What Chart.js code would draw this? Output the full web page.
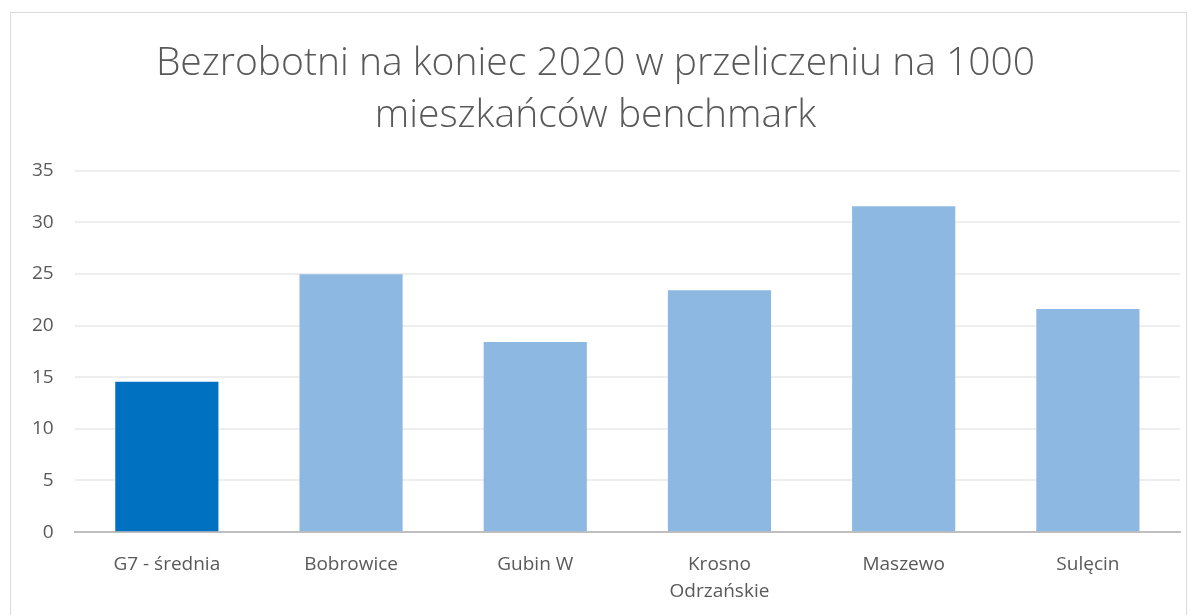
<!DOCTYPE html>
<html><head><meta charset="utf-8">
<script src="https://cdn.jsdelivr.net/npm/chart.js@4/dist/chart.umd.min.js"></script>
<style>
html,body{margin:0;padding:0;background:#fff;overflow:hidden;}
#wrap{position:absolute;left:10px;top:12px;width:1177px;height:614px;border:1px solid #d9d9d9;box-sizing:border-box;}
canvas{display:block;}
</style></head><body>
<div id="wrap"><canvas id="c"></canvas></div>
<script>
const categories = ["G7 - średnia", "Bobrowice", "Gubin W", ["Krosno", "Odrzańskie"], "Maszewo", "Sulęcin"];
const values = [14.55, 24.95, 18.4, 23.4, 31.55, 21.6];
const barColors = ["#0070C0", "#8DB8E1", "#8DB8E1", "#8DB8E1", "#8DB8E1", "#8DB8E1"];
const titleLines = ["Bezrobotni na koniec 2020 w przeliczeniu na 1000", "mieszkańców benchmark"];

new Chart(document.getElementById('c'), {
  type: 'bar',
  data: { labels: categories, datasets: [{ data: values, backgroundColor: barColors, barPercentage: 0.56, categoryPercentage: 1 }] },
  options: {
    responsive: true, maintainAspectRatio: false, animation: false,
    layout: { padding: { left: 0, right: 6, top: 25, bottom: 1 } },
    plugins: {
      legend: { display: false }, tooltip: { enabled: false },
      title: { display: true, text: titleLines, color: '#595959',
        font: { family: 'Open Sans', size: 39, weight: '300', lineHeight: 1.34 }, padding: { top: 0, bottom: 28 } }
    },
    scales: {
      x: { grid: { display: false, drawTicks: false }, border: { color: '#bfbfbf', width: 2 },
        ticks: { color: '#595959', font: { family: 'Open Sans', size: 19, lineHeight: 1.47 }, padding: 18, maxRotation: 0 } },
      y: { min: 0, max: 35, grid: { color: '#eeeeee', lineWidth: 2, drawTicks: false }, border: { display: false },
        ticks: { stepSize: 5, color: '#595959', font: { family: 'Open Sans', size: 19 }, padding: 21 } }
    }
  }
});
</script></body></html>
